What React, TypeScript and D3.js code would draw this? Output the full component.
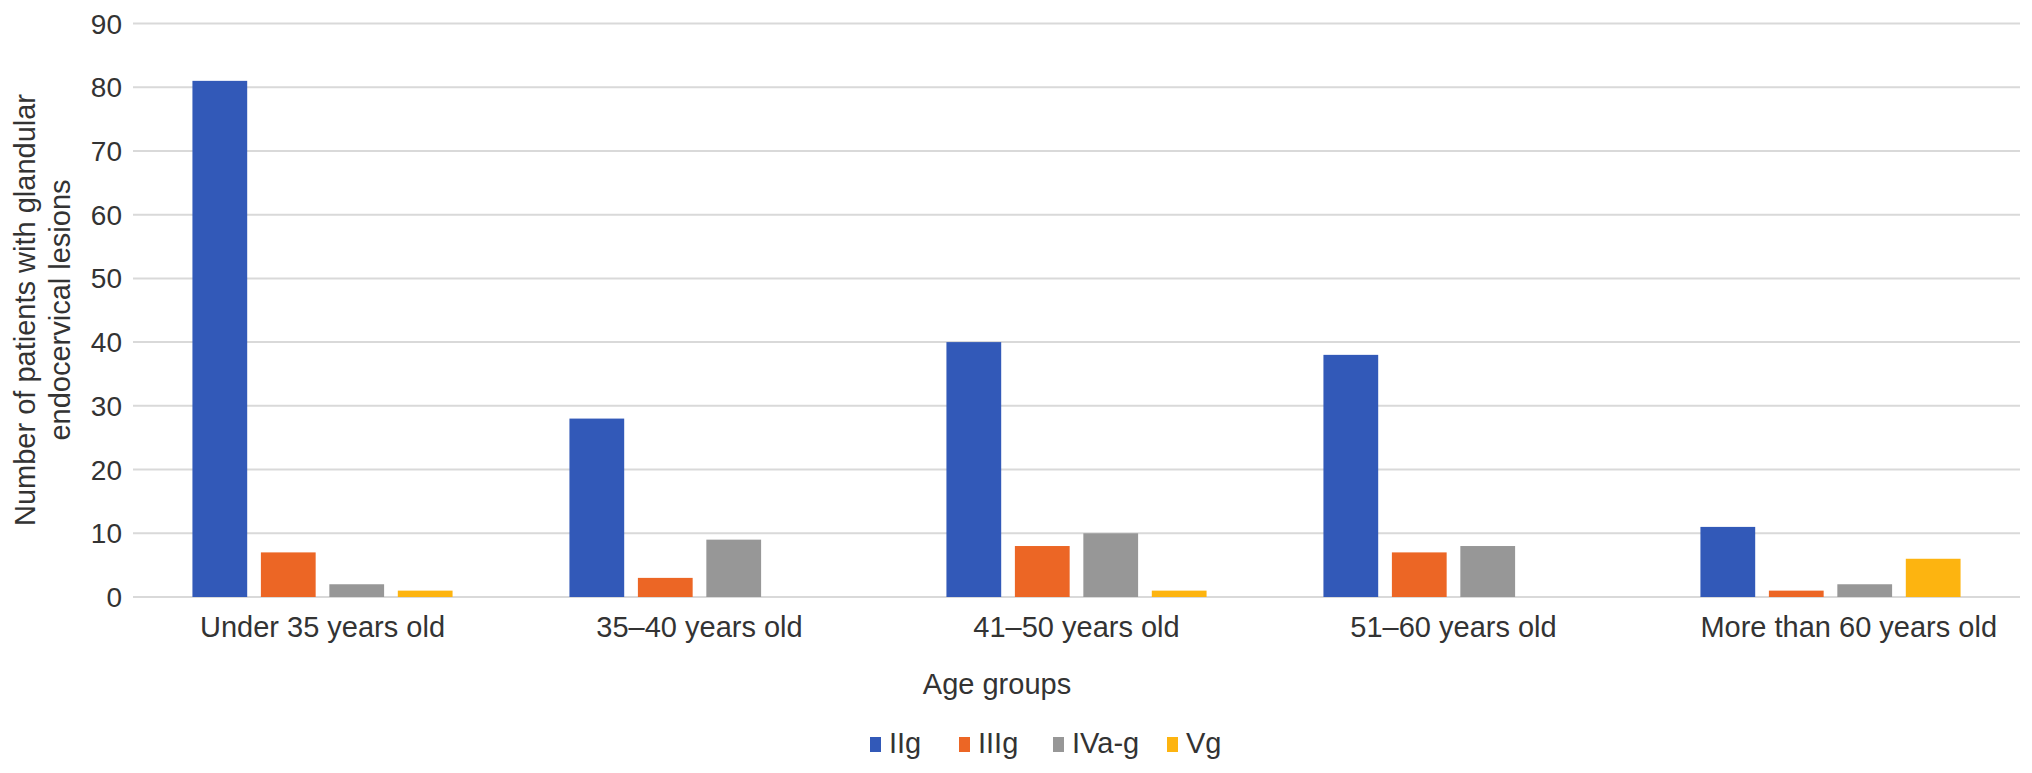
import React from "react";
import * as d3 from "d3";

const categories = [
  "Under 35 years old",
  "35\u201340 years old",
  "41\u201350 years old",
  "51\u201360 years old",
  "More than 60 years old",
];
const seriesNames = ["IIg", "IIIg", "IVa-g", "Vg"];
const IIg = [81, 28, 40, 38, 11];
const IIIg = [7, 3, 8, 7, 1];
const IVag = [2, 9, 10, 8, 2];
const Vg = [1, 0, 1, 0, 6];
const seriesValues = [IIg, IIIg, IVag, Vg];
const yTicks = [0, 10, 20, 30, 40, 50, 60, 70, 80, 90];
const colors = ["#3259b8", "#ec6625", "#979797", "#fdb410"];

const W = 2032;
const H = 773;
const FONT = "'Liberation Sans', Arial, Helvetica, sans-serif";
const TEXT = "#333333";
const LEGEND_X = [870, 959, 1053, 1167];

function measure(text: string, size: number): number {
  if (typeof document === "undefined") return text.length * size * 0.5;
  const c = document.createElement("canvas");
  const ctx = c.getContext("2d");
  if (!ctx) return text.length * size * 0.5;
  ctx.font = `${size}px 'Liberation Sans', Arial, sans-serif`;
  return ctx.measureText(text).width;
}

export default function App() {
  const left = 134;
  const right = 2019;
  const y = d3.scaleLinear().domain([0, 90]).range([597, 23.5]);
  const x0 = d3
    .scaleBand<string>()
    .domain(categories)
    .range([left, right])
    .paddingInner(0.31)
    .paddingOuter(0.155);
  const x1 = d3
    .scaleBand<string>()
    .domain(seriesNames)
    .range([0, x0.bandwidth()])
    .paddingInner(0.2)
    .paddingOuter(0);

  const catSize = 29;

  return (
    <svg
      width={W}
      height={H}
      style={{ position: "absolute", left: 0, top: 0, background: "#fff" }}
      fontFamily={FONT}
    >
      <rect x={0} y={0} width={W} height={H} fill="#fff" />
      {/* gridlines */}
      {yTicks.map((t) => (
        <line
          key={"g" + t}
          x1={left - 1}
          x2={right + 1}
          y1={y(t)}
          y2={y(t)}
          stroke="#d9d9d9"
          strokeWidth={2}
        />
      ))}
      {/* y tick labels */}
      {yTicks.map((t) => (
        <text
          key={"t" + t}
          x={122}
          y={y(t)}
          dy="0.36em"
          textAnchor="end"
          fontSize={28}
          fill={TEXT}
        >
          {t}
        </text>
      ))}
      {/* bars */}
      {categories.map((cat, ci) => (
        <g key={cat} transform={`translate(${x0(cat)},0)`}>
          {seriesNames.map((s, si) => {
            const v = seriesValues[si][ci];
            if (v <= 0) return null;
            return (
              <rect
                key={s}
                x={x1(s)}
                y={y(v)}
                width={x1.bandwidth()}
                height={y(0) - y(v)}
                fill={colors[si]}
              />
            );
          })}
        </g>
      ))}
      {/* category labels */}
      {categories.map((cat) => {
        const start = x0(cat) as number;
        const center = start + x0.bandwidth() / 2;
        const w = measure(cat, catSize);
        const cx = Math.max(center, start + w / 2);
        return (
          <text
            key={"c" + cat}
            x={cx}
            y={637}
            textAnchor="middle"
            fontSize={catSize}
            fill={TEXT}
          >
            {cat}
          </text>
        );
      })}
      {/* axis titles */}
      <text x={997} y={694} textAnchor="middle" fontSize={29} fill={TEXT}>
        Age groups
      </text>
      <text
        transform="translate(35,310) rotate(-90)"
        textAnchor="middle"
        fontSize={29}
        fill={TEXT}
      >
        Number of patients with glandular
      </text>
      <text
        transform="translate(70,310) rotate(-90)"
        textAnchor="middle"
        fontSize={29}
        fill={TEXT}
      >
        endocervical lesions
      </text>
      {/* legend */}
      {seriesNames.map((name, i) => (
        <g key={"l" + name}>
          <rect x={LEGEND_X[i]} y={737} width={11} height={15} fill={colors[i]} />
          <text x={LEGEND_X[i] + 19} y={753} fontSize={29} fill={TEXT}>
            {name}
          </text>
        </g>
      ))}
    </svg>
  );
}
